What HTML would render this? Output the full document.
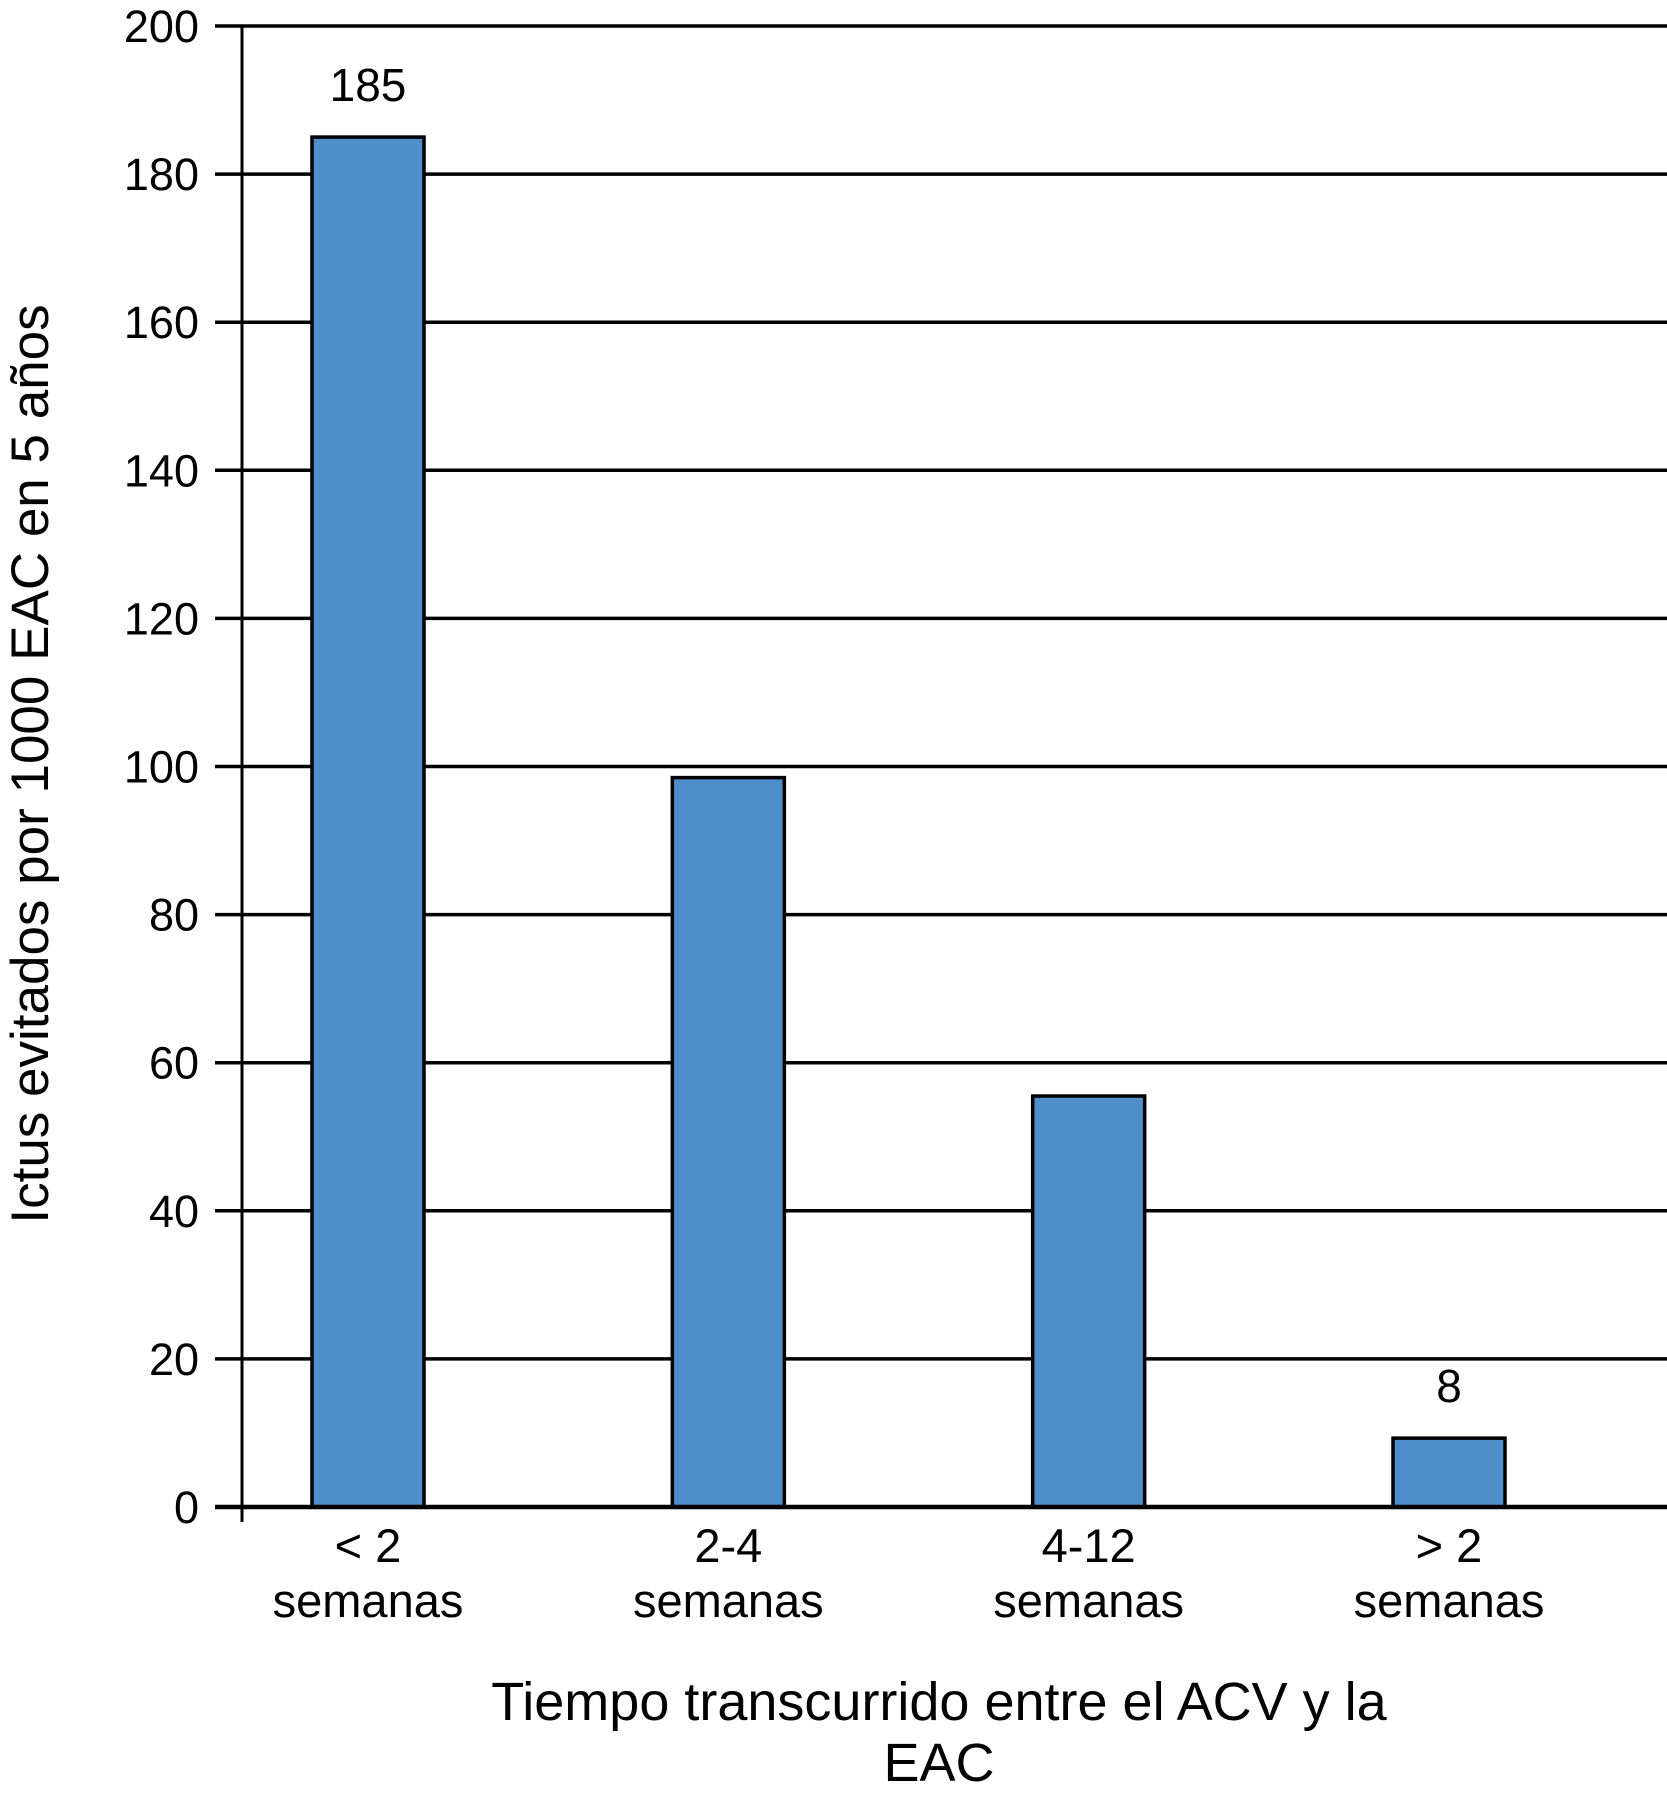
<!DOCTYPE html>
<html><head><meta charset="utf-8"><style>
body{margin:0;background:#fff;}
svg text{font-family:"Liberation Sans",Arial,sans-serif;fill:#000;}
</style></head><body>
<svg id="chart" width="1667" height="1799" xmlns="http://www.w3.org/2000/svg">
<g id="grid"></g><g id="bars"></g><g id="labels"></g>
<text transform="translate(48,764) rotate(-90)" text-anchor="middle" font-size="53">Ictus evitados por 1000 EAC en 5 años</text>
<text x="939" y="1720" text-anchor="middle" font-size="54">Tiempo transcurrido entre el ACV y la</text>
<text x="939" y="1781" text-anchor="middle" font-size="54">EAC</text>
</svg>
<script>
const categories1 = ["< 2", "2-4", "4-12", "> 2"];
const categories2 = ["semanas", "semanas", "semanas", "semanas"];
const values = [185, 98.5, 55.5, 9.3];
const valueLabels = ["185", "", "", "8"];
const yTicks = [0, 20, 40, 60, 80, 100, 120, 140, 160, 180, 200];

const NS = "http://www.w3.org/2000/svg";
const y0 = 1507, yTop = 26, yMax = 200;
const axisX = 242, plotRight = 1667, barW = 112;
const firstCenter = 368, lastCenter = 1449;
function y(v){ return y0 - (y0 - yTop) * v / yMax; }
function xc(i){ return firstCenter + i * ((lastCenter - firstCenter) / (values.length - 1)); }
function mk(tag, attrs, parent){ const e = document.createElementNS(NS, tag); for (const k in attrs) e.setAttribute(k, attrs[k]); parent.appendChild(e); return e; }
const grid = document.getElementById('grid'), bars = document.getElementById('bars'), labels = document.getElementById('labels');

yTicks.forEach(t => {
  const l = mk('line', {x1: 215, x2: plotRight, y1: y(t), y2: y(t), stroke: '#000', 'stroke-width': 3.5}, grid);
  
  
  const tx = mk('text', {x: 199, y: y(t) + 16, 'text-anchor': 'end', 'font-size': 45}, labels);
  tx.textContent = t;
  
  
});
const ax = mk('line', {x1: axisX, x2: axisX, y1: yTop, y2: 1522, stroke: '#000', 'stroke-width': 3}, grid);



values.forEach((v, i) => {
  const r = mk('rect', {x: xc(i) - barW / 2, y: y(v), width: barW, height: y0 - y(v), fill: '#4f8ecb', stroke: '#000', 'stroke-width': 3.5}, bars);
  
  
  if (valueLabels[i]) {
    const t = mk('text', {x: xc(i), y: y(v) - 36, 'text-anchor': 'middle', 'font-size': 46}, labels);
    t.textContent = valueLabels[i];
    
    
  }
  const c1 = mk('text', {x: xc(i), y: 1562, 'text-anchor': 'middle', 'font-size': 47}, labels);
  c1.textContent = categories1[i];
  
  
  const c2 = mk('text', {x: xc(i), y: 1617, 'text-anchor': 'middle', 'font-size': 47}, labels);
  c2.textContent = categories2[i];
  
  
});
const base = mk('line', {x1: 215, x2: plotRight, y1: y0, y2: y0, stroke: '#000', 'stroke-width': 4.5}, bars);


</script>
</body></html>
